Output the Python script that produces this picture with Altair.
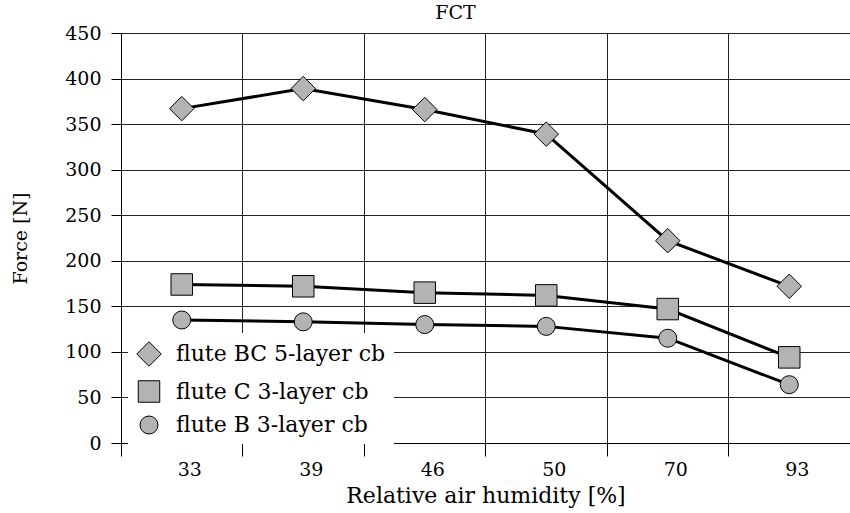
import altair as alt
import pandas as pd

humidity = ["33", "39", "46", "50", "70", "93"]
series = ["flute BC 5-layer cb", "flute C 3-layer cb", "flute B 3-layer cb"]
force_bc = [367, 389, 366, 339, 222, 172]
force_c = [174, 172, 165, 162, 147, 94]
force_b = [135, 133, 130, 128, 115, 64]
y_ticks = [0, 50, 100, 150, 200, 250, 300, 350, 400, 450]

rows = []
for name, vals in zip(series, [force_bc, force_c, force_b]):
    for h, v in zip(humidity, vals):
        rows.append({"humidity": h, "series": name, "force": v})
df = pd.DataFrame(rows)

FONT = "DejaVu Serif"
FS = 19
FS_BIG = 22

legend_kw = dict(
    title=None,
    symbolFillColor="#b3b3b3",
    symbolStrokeColor="black",
    symbolStrokeWidth=1,
    symbolOpacity=1,
)

x = alt.X(
    "humidity:O",
    sort=humidity,
    scale=alt.Scale(type="band", paddingInner=0, paddingOuter=0),
    axis=alt.Axis(
        title="Relative air humidity [%]",
        bandPosition=0,
        labelOffset=8,
        labelAngle=0,
        grid=True,
        tickSize=13,
        labelPadding=4,
        titlePadding=6,
    ),
)
y = alt.Y(
    "force:Q",
    scale=alt.Scale(domain=[0, 450], nice=False),
    axis=alt.Axis(
        title="Force [N]",
        values=y_ticks,
        grid=True,
        tickSize=10,
        labelPadding=10,
        titlePadding=34,
        titleFontSize=FS,
    ),
)

lines = alt.Chart(df).mark_line(color="black", strokeWidth=3).encode(
    x=x, y=y, detail="series:N"
)

points = alt.Chart(df).mark_point(
    filled=False, fill="#b3b3b3", fillOpacity=1,
    strokeWidth=1, strokeOpacity=1, opacity=1
).encode(
    x=x,
    y=y,
    color=alt.Color(
        "series:N",
        scale=alt.Scale(domain=series, range=["black", "black", "black"]),
        legend=alt.Legend(**legend_kw),
    ),
    shape=alt.Shape(
        "series:N",
        scale=alt.Scale(domain=series, range=["diamond", "square", "circle"]),
        legend=alt.Legend(**legend_kw),
    ),
    size=alt.Size(
        "series:N",
        scale=alt.Scale(domain=series, range=[600, 324, 580]),
        legend=alt.Legend(**legend_kw),
    ),
)

chart = (
    alt.layer(lines, points)
    .properties(
        width=729,
        height=410,
        title=alt.TitleParams("FCT", dx=-30, offset=1),
        autosize=alt.AutoSizeParams(type="none"),
        padding={"left": 121, "top": 33, "right": 0, "bottom": 70},
    )
    .configure_view(stroke=None)
    .configure_title(font=FONT, fontSize=FS, fontWeight="normal", color="black", anchor="middle")
    .configure_axis(
        labelFont=FONT,
        labelFontSize=FS,
        labelColor="black",
        titleFont=FONT,
        titleFontSize=FS_BIG,
        titleFontWeight="normal",
        titleColor="black",
        domainColor="black",
        domainWidth=1,
        tickColor="black",
        tickWidth=1,
        gridColor="#222222",
        gridWidth=1,
        gridOpacity=1,
    )
    .configure_legend(
        orient="none",
        legendX=7,
        legendY=300,
        fillColor="white",
        padding=8,
        labelFont=FONT,
        labelFontSize=FS_BIG,
        labelColor="black",
        labelOffset=14,
        labelLimit=400,
        rowPadding=9,
    )
)

chart.save("out.html", embed_options={"renderer": "svg", "actions": False})
